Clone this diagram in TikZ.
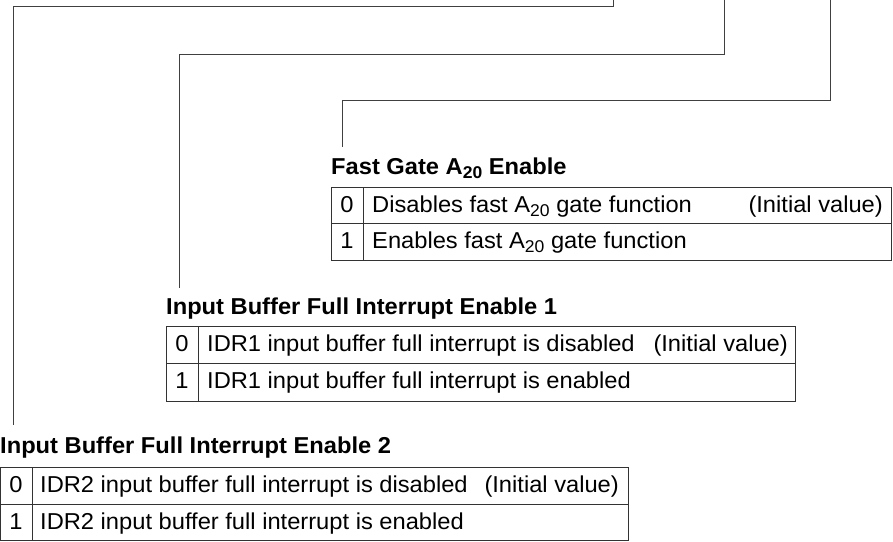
\documentclass[tikz,border=0pt]{standalone}
\usepackage{fontspec}
\setmainfont{Liberation Sans}[FakeStretch=1.03]
\usetikzlibrary{positioning}
\newcommand{\lowsub}[1]{\raisebox{-4.5pt}{\scalebox{0.74}{#1}}}

\begin{document}
\begin{tikzpicture}[
		x=1pt, y=-1pt,
		wire/.style={draw=black!75, line width=1pt},
		grid/.style={draw=black!80, line width=1pt},
		title/.style={anchor=base west, inner sep=0pt, font=\fontsize{23}{27}\selectfont\bfseries},
		cell/.style={anchor=base west, inner sep=0pt, font=\fontsize{23}{27}\selectfont},
		bit/.style={anchor=base, inner sep=0pt, font=\fontsize{23}{27}\selectfont}
		]
		\useasboundingbox (0,0) rectangle (893,541);
		
		% free ends of the bit lines (above the picture)
		\coordinate (b7) at (613,0);
		\coordinate (b6) at (724,0);
		\coordinate (b5) at (830,0);
		\coordinate (k7) at (13,6);
		\coordinate (k6) at (179,54);
		\coordinate (k5) at (342,100);
		\coordinate (e7) at (13,425);
		\coordinate (e6) at (179,288);
		\coordinate (e5) at (342,147);
		
		% Fast gate table
		\node[title] (fgate) at (331,174) {Fast Gate A\lowsub{20} Enable};
		\draw[grid] (331,187) rectangle (891,260);
		\draw[grid] (331,223) -- (891,223);
		\draw[grid] (363,187) -- (363,260);
		\node[bit] (fg0) at (347,212) {0};
		\node[cell] (fg0t) at (372,212) {Disables fast A\lowsub{20} gate function};
		\node[cell, anchor=base east] (fg0i) at (883,212) {(Initial value)};
		\node[bit] (fg1) at (347,248) {1};
		\node[cell] (fg1t) at (372,248) {Enables fast A\lowsub{20} gate function};
		
		% IBFIE1 table
		\node[title] (ibf1) at (166,314) {Input Buffer Full Interrupt Enable 1};
		\draw[grid] (166,326) rectangle (795,401);
		\draw[grid] (166,363) -- (795,363);
		\draw[grid] (198,326) -- (198,401);
		\node[bit] (ib10) at (182,351.5) {0};
		\node[cell] (ib10t) at (207,351.5) {IDR1 input buffer full interrupt is disabled};
		\node[cell, anchor=base east] (ib10i) at (788,351.5) {(Initial value)};
		\node[bit] (ib11) at (182,388.5) {1};
		\node[cell] (ib11t) at (207,388.5) {IDR1 input buffer full interrupt is enabled};
		
		% IBFIE2 table
		\node[title] (ibf2) at (0,453) {Input Buffer Full Interrupt Enable 2};
		\draw[grid] (0,467) rectangle (628,540);
		\draw[grid] (0,504) -- (628,504);
		\draw[grid] (32,467) -- (32,540);
		\node[bit] (ib20) at (16,492.5) {0};
		\node[cell] (ib20t) at (40,492.5) {IDR2 input buffer full interrupt is disabled};
		\node[cell, anchor=base east] (ib20i) at (619,492.5) {(Initial value)};
		\node[bit] (ib21) at (16,529) {1};
		\node[cell] (ib21t) at (40,529) {IDR2 input buffer full interrupt is enabled};
		
		% Bit lines
		\draw[wire] (b7) |- (k7) -- (e7);
		\draw[wire] (b6) |- (k6) -- (e6);
		\draw[wire] (b5) |- (k5) -- (e5);
		
	\end{tikzpicture}
\end{document}
